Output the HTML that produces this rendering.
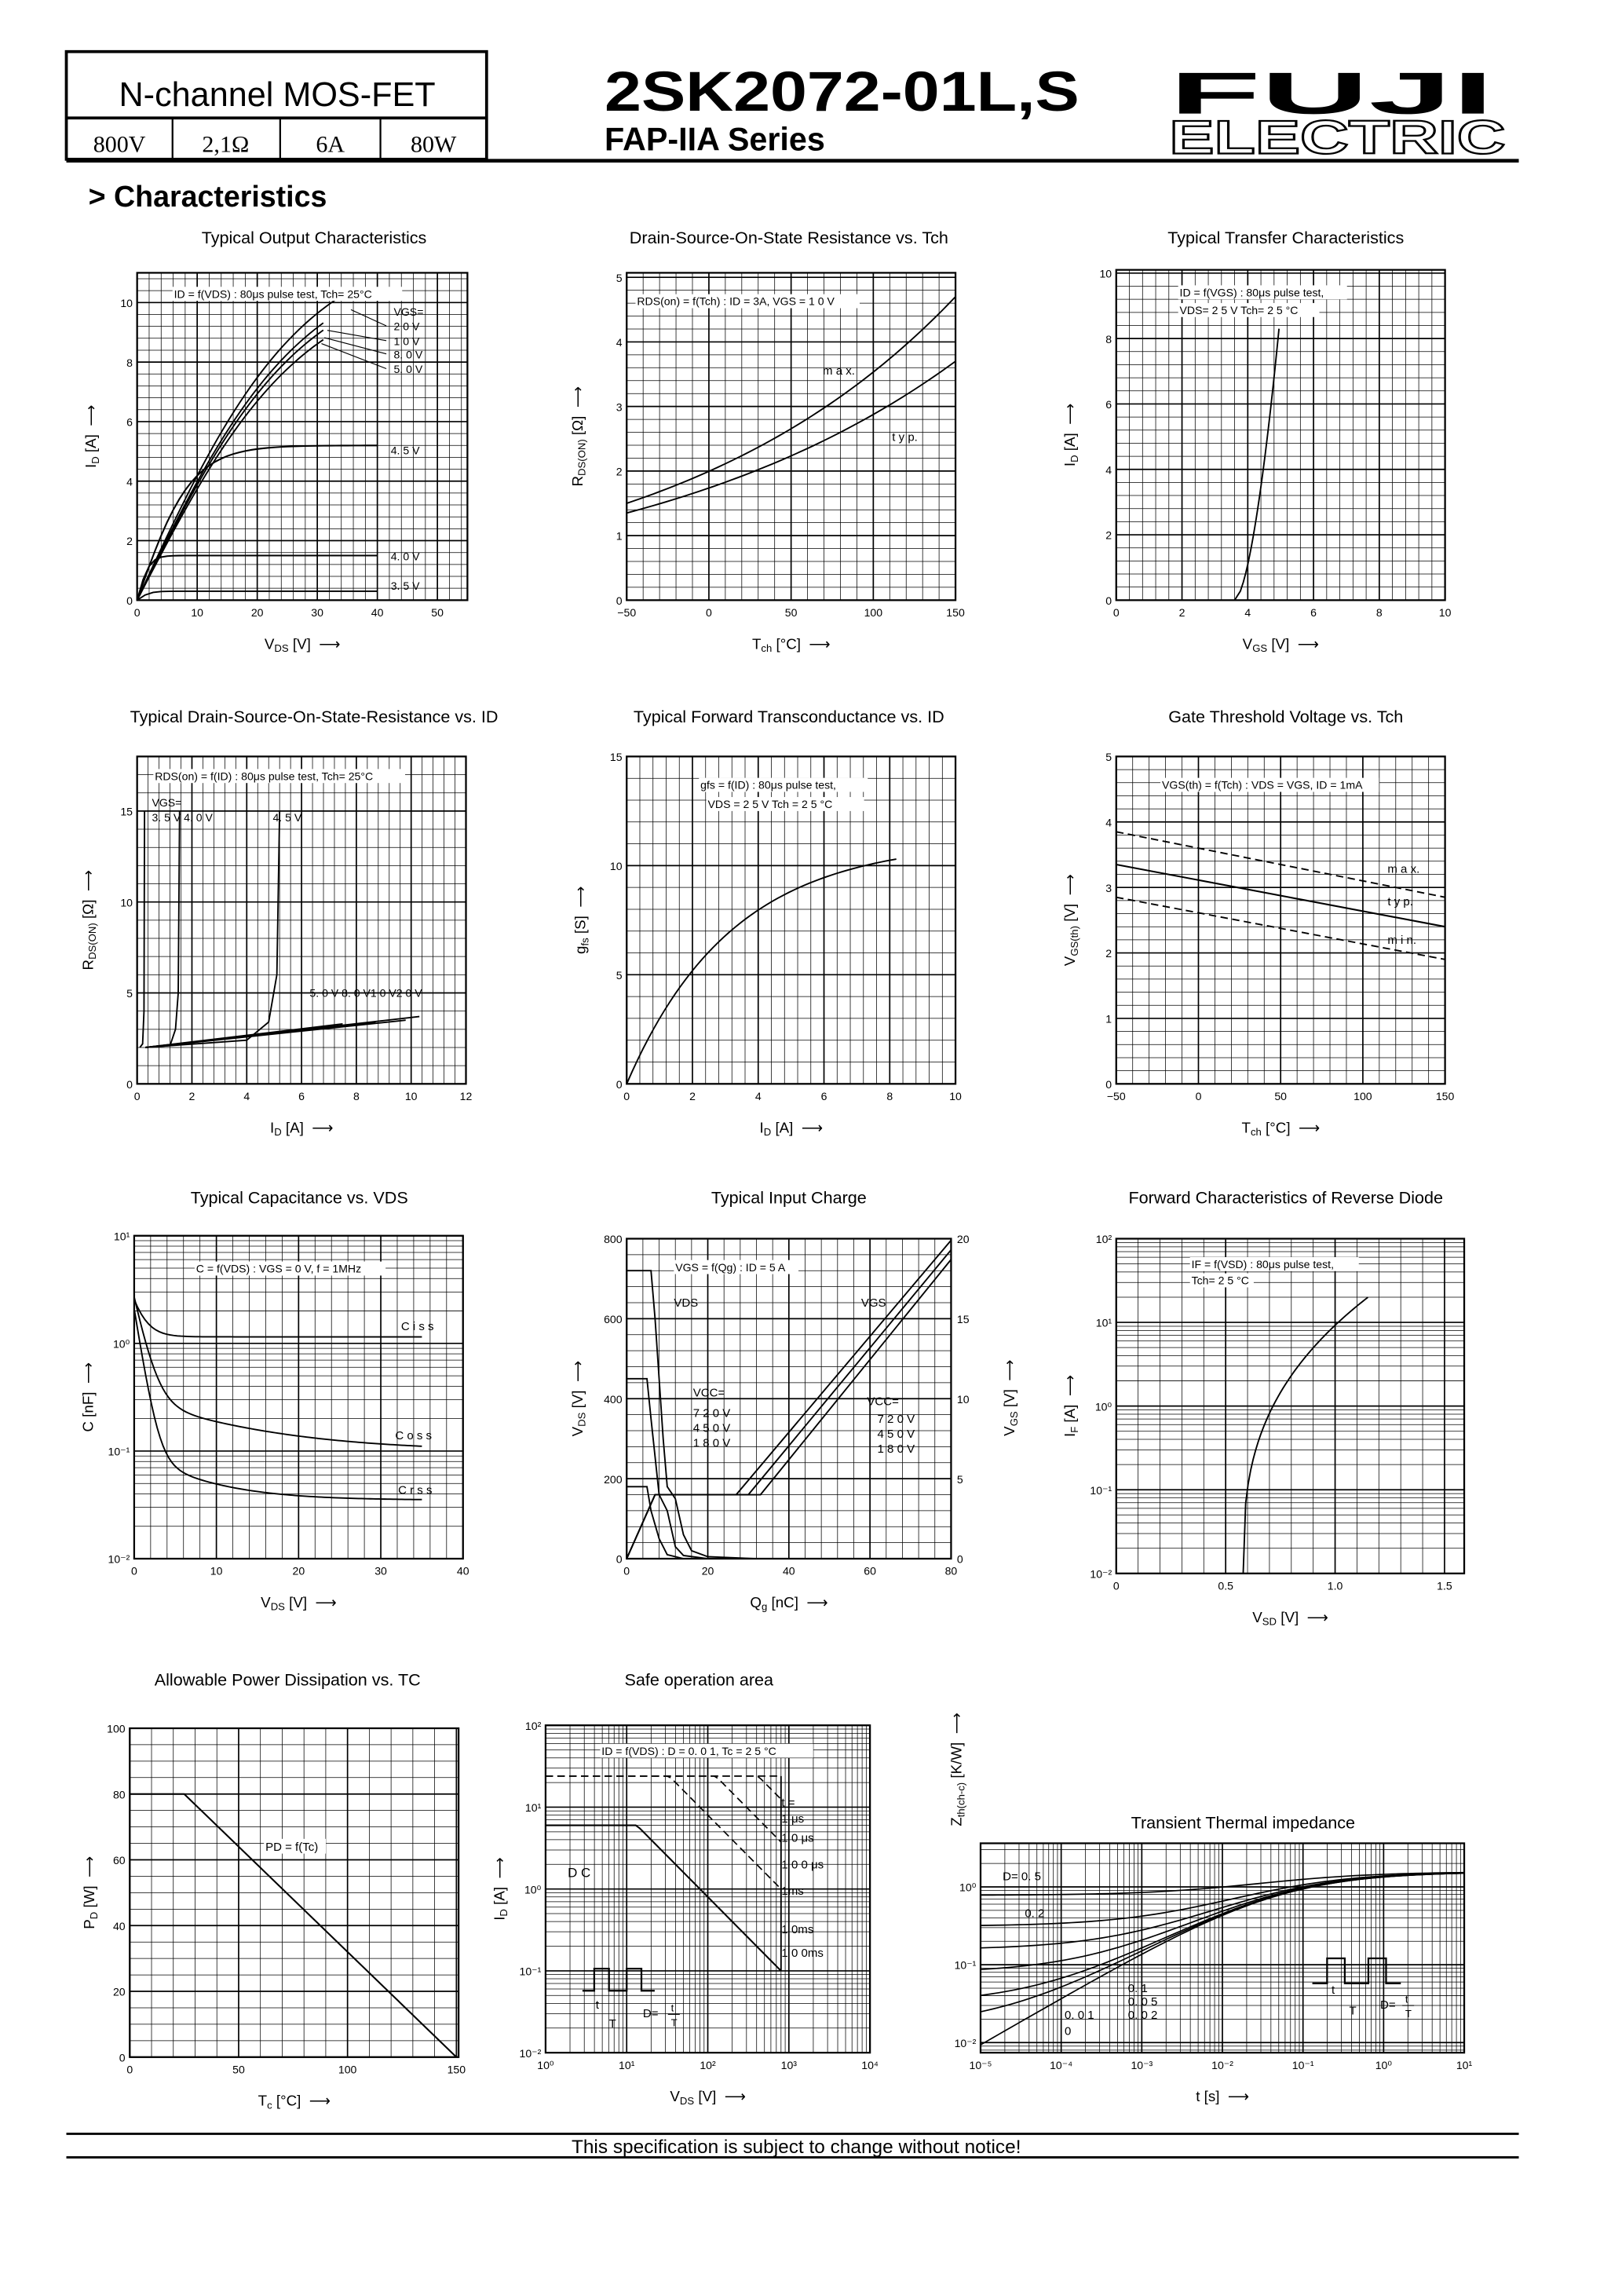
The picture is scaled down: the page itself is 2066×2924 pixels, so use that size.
<!DOCTYPE html>
<html><head><meta charset="utf-8"><style>
html,body{margin:0;padding:0;background:#fff}
svg{display:block}
text{font-family:"Liberation Sans",sans-serif;fill:#000}
</style></head><body>
<svg id="s" xmlns="http://www.w3.org/2000/svg" width="2066" height="2924" viewBox="0 0 1100 1557" preserveAspectRatio="none">
<rect width="1100" height="1557" fill="#fff"/>
<rect x="45" y="35" width="285" height="73" fill="none" stroke="#000" stroke-width="2"/>
<line x1="45" y1="80" x2="330" y2="80" stroke="#000" stroke-width="2"/>
<line x1="117" y1="80" x2="117" y2="108" stroke="#000" stroke-width="1.2"/>
<line x1="190" y1="80" x2="190" y2="108" stroke="#000" stroke-width="1.2"/>
<line x1="258" y1="80" x2="258" y2="108" stroke="#000" stroke-width="1.2"/>
<line x1="45" y1="109" x2="1030" y2="109" stroke="#000" stroke-width="2.5"/>
<text x="188" y="72" font-size="23" text-anchor="middle">N-channel MOS-FET</text>
<text x="81" y="103" font-size="16" text-anchor="middle" style="font-family:'Liberation Serif',serif">800V</text>
<text x="153" y="103" font-size="16" text-anchor="middle" style="font-family:'Liberation Serif',serif">2,1Ω</text>
<text x="224" y="103" font-size="16" text-anchor="middle" style="font-family:'Liberation Serif',serif">6A</text>
<text x="294" y="103" font-size="16" text-anchor="middle" style="font-family:'Liberation Serif',serif">80W</text>
<text x="410" y="75" font-size="38" font-weight="bold" textLength="322" lengthAdjust="spacingAndGlyphs">2SK2072-01L,S</text>
<text x="410" y="102" font-size="22" font-weight="bold">FAP-IIA Series</text>
<text x="793" y="77" font-size="40" font-weight="bold" textLength="220" lengthAdjust="spacingAndGlyphs">FUJI</text>
<text x="793" y="104" font-size="32" font-weight="bold" stroke="#000" stroke-width="1.2" textLength="228" lengthAdjust="spacingAndGlyphs" style="fill:none">ELECTRIC</text>
<text x="60" y="140" font-size="20" font-weight="bold">&gt; Characteristics</text>
<line x1="45" y1="1447" x2="1030" y2="1447" stroke="#000" stroke-width="1.5"/>
<line x1="45" y1="1463" x2="1030" y2="1463" stroke="#000" stroke-width="1.5"/>
<text x="540" y="1460" font-size="13" text-anchor="middle">This specification is subject to change without notice!</text>
<g id="g"></g>
</svg>
<script>
const NS='http://www.w3.org/2000/svg';const G=document.getElementById('g');
function el(t,a,txt){const e=document.createElementNS(NS,t);for(const k in a)e.setAttribute(k,a[k]);if(txt!=null)e.textContent=txt;G.appendChild(e);return e;}
function L(x1,y1,x2,y2,w,d){el('line',{x1,y1,x2,y2,stroke:'#000','stroke-width':w||0.5,'stroke-dasharray':d||'none'});}
function T(x,y,s,sz,anc,extra){const a={x,y,'font-size':sz||8,'text-anchor':anc||'start'};Object.assign(a,extra||{});return el('text',a,s);}
function lab(x,y,s,sz){el('rect',{x:x-1,y:y-sz,width:s.length*sz*0.5+2,height:sz+2,fill:'#fff'});T(x,y,s,sz);}
function ax(o){
 const lx=v=>o.xlog?Math.log10(v):v, ly=v=>o.ylog?Math.log10(v):v;
 const X=v=>o.x0+(lx(v)-o.xmin)/(o.xmax-o.xmin)*(o.x1-o.x0);
 const Y=v=>o.y1-(ly(v)-o.ymin)/(o.ymax-o.ymin)*(o.y1-o.y0);
 const minor=(log,min,max,step,mn,f)=>{ if(log){for(let d=Math.floor(min);d<max;d++)for(let i=2;i<10;i++){const v=d+Math.log10(i);if(v<max&&v>min)f(v);} } else {for(let v=min;v<=max+1e-9;v+=step/mn)f(v);} };
 const xs=(v)=>o.x0+(v-o.xmin)/(o.xmax-o.xmin)*(o.x1-o.x0);
 const ys=(v)=>o.y1-(v-o.ymin)/(o.ymax-o.ymin)*(o.y1-o.y0);
 minor(o.xlog,o.xmin,o.xmax,o.xs,o.xm||5,v=>{const x=xs(v);L(x,o.y0,x,o.y1,0.4);});
 minor(o.ylog,o.ymin,o.ymax,o.ys,o.ym||5,v=>{const y=ys(v);L(o.x0,y,o.x1,y,0.4);});
 o.xt.forEach(([v,s])=>{const x=xs(v);L(x,o.y0,x,o.y1,0.9);T(x,o.y1+11,s,7.5,'middle');});
 o.yt.forEach(([v,s])=>{const y=ys(v);L(o.x0,y,o.x1,y,0.9);T(o.x0-3,y+3,s,7.5,'end');});
 if(o.yt2)o.yt2.forEach(([v,s])=>{const y=ys(v);T(o.x1+4,y+3,s,7.5,'start');});
 el('rect',{x:o.x0,y:o.y0,width:o.x1-o.x0,height:o.y1-o.y0,fill:'none',stroke:'#000','stroke-width':1.2});
 if(o.title)T(o.tx||(o.x0+o.x1)/2,o.ty,o.title,11.5,'middle');
 if(o.xl){const t=T((o.x0+o.x1)/2,o.y1+(o.xly||33),'',10,'middle');t.innerHTML=o.xl;}
 if(o.yl){const cx=o.x0-(o.ylx||28),cy=(o.y0+o.y1)/2;const t=el('text',{x:cx,y:cy,'font-size':10,'text-anchor':'middle',transform:`rotate(-90 ${cx} ${cy})`});t.innerHTML=o.yl;}
 return {X,Y};
}
function curve(A,pts,w,d){el('polyline',{points:pts.map(p=>A.X(p[0]).toFixed(2)+','+A.Y(p[1]).toFixed(2)).join(' '),fill:'none',stroke:'#000','stroke-width':w||1,'stroke-dasharray':d||'none'});}
function fn(A,f,a,b,n,w,d){const p=[];for(let i=0;i<=n;i++){const x=a+(b-a)*i/n;p.push([x,f(x)]);}curve(A,p,w,d);}
function logfn(A,f,a,b,n,w,d){const p=[];for(let i=0;i<=n;i++){const x=Math.pow(10,a+(b-a)*i/n);p.push([x,f(x)]);}curve(A,p,w,d);}
const sub=(a,b)=>`${a}<tspan font-size="7" dy="2">${b}</tspan><tspan dy="-2">`;
const ARW=' &#160;⟶';
const R1=165,R2=490,R3=816,R4=1143;

let A=ax({x0:93,x1:317,y0:185,y1:407,xmin:0,xmax:55,ymin:0,ymax:11,xs:10,ys:2,xt:[[0,'0'],[10,'10'],[20,'20'],[30,'30'],[40,'40'],[50,'50']],yt:[[0,'0'],[2,'2'],[4,'4'],[6,'6'],[8,'8'],[10,'10']],title:'Typical Output Characteristics',ty:R1,tx:213,xl:sub('V','DS')+' [V]</tspan>'+ARW,yl:sub('I','D')+' [A]</tspan>'+ARW});
[[12.2,36],[11.6,31],[11.3,31],[10.9,31]].forEach(([s,e])=>fn(A,v=>s*Math.tanh(v/28),0,e,40,1));
fn(A,v=>5.2*Math.tanh(v/9),0,40,40,1.1);fn(A,v=>1.5*Math.tanh(v/2),0,40,40,1.1);fn(A,v=>0.3*Math.tanh(v/2),0,40,30,1);
lab(118,202,'ID = f(VDS) : 80μs pulse test,  Tch= 25°C',7.5);
T(267,214,'VGS=',7.5);T(267,224,'2 0 V',7.5);T(267,234,'1 0 V',7.5);T(267,243,'8. 0 V',7.5);T(267,253,'5. 0 V',7.5);
L(262,221,238,210,0.6);L(262,231,222,224,0.6);L(262,240,220,229,0.6);L(262,250,218,233,0.6);
T(265,308,'4. 5 V',7.5);T(265,380,'4. 0 V',7.5);T(265,400,'3. 5 V',7.5);

A=ax({x0:425,x1:648,y0:185,y1:407,xmin:-50,xmax:150,ymin:0,ymax:5.07,xs:50,ys:1,xt:[[-50,'−50'],[0,'0'],[50,'50'],[100,'100'],[150,'150']],yt:[[0,'0'],[1,'1'],[2,'2'],[3,'3'],[4,'4'],[5,'5']],title:'Drain-Source-On-State Resistance vs. Tch',ty:R1,tx:535,xl:sub('T','ch')+' [°C]</tspan>'+ARW,yl:sub('R','DS(ON)')+' [Ω]</tspan>'+ARW,ylx:30});
fn(A,t=>1.35*Math.exp(Math.log(3.7/1.35)*(t+50)/200),-50,150,50,1);
fn(A,t=>1.5*Math.exp(Math.log(4.7/1.5)*(t+50)/200),-50,150,50,1);
lab(432,207,'RDS(on) = f(Tch) : ID = 3A,  VGS = 1 0 V',7.5);T(558,254,'m a x.',8);T(605,299,'t y p.',8);

A=ax({x0:757,x1:980,y0:183,y1:407,xmin:0,xmax:10,ymin:0,ymax:10.1,xs:2,ys:2,xt:[[0,'0'],[2,'2'],[4,'4'],[6,'6'],[8,'8'],[10,'10']],yt:[[0,'0'],[2,'2'],[4,'4'],[6,'6'],[8,'8'],[10,'10']],title:'Typical Transfer Characteristics',ty:R1,tx:872,xl:sub('V','GS')+' [V]</tspan>'+ARW,yl:sub('I','D')+' [A]</tspan>'+ARW});
(function(){const p=[];for(let i=0;i<=30;i++){const I=8.3*i/30;p.push([3.6+1.35*Math.pow(I/8.3,0.6),I]);}curve(A,p,1);})();
lab(800,201,'ID = f(VGS) : 80μs pulse test,',7.5);lab(800,213,'VDS= 2 5 V    Tch= 2 5 °C',7.5);

A=ax({x0:93,x1:316,y0:513,y1:735,xmin:0,xmax:12,ymin:0,ymax:18,xs:2,ys:5,xt:[[0,'0'],[2,'2'],[4,'4'],[6,'6'],[8,'8'],[10,'10'],[12,'12']],yt:[[0,'0'],[5,'5'],[10,'10'],[15,'15']],title:'Typical Drain-Source-On-State-Resistance vs. ID',ty:R2,tx:213,xl:sub('I','D')+' [A]</tspan>'+ARW,yl:sub('R','DS(ON)')+' [Ω]</tspan>'+ARW,ylx:30});
curve(A,[[0.1,2],[0.2,2.2],[0.25,4],[0.27,15]],1);
curve(A,[[0.3,2],[1.2,2.1],[1.4,3],[1.5,5],[1.55,15]],1);
curve(A,[[0.3,2],[4,2.4],[4.8,3.4],[5.1,6],[5.2,15]],1);
curve(A,[[0.3,2],[7.5,3.3]],1);curve(A,[[0.3,2],[8.7,3.4]],1);curve(A,[[0.3,2],[9.8,3.5]],1);curve(A,[[0.3,2],[10.3,3.7]],1);
lab(105,529,'RDS(on) = f(ID) : 80μs pulse test,  Tch= 25°C',7.5);
T(103,547,'VGS=',7.5);T(103,557,'3. 5 V  4. 0 V',7.5);T(185,557,'4. 5 V',7.5);T(210,676,'5. 0 V 8. 0 V1 0 V2 0 V',7.5);

A=ax({x0:425,x1:648,y0:513,y1:735,xmin:0,xmax:10,ymin:0,ymax:15,xs:2,ys:5,xt:[[0,'0'],[2,'2'],[4,'4'],[6,'6'],[8,'8'],[10,'10']],yt:[[0,'0'],[5,'5'],[10,'10'],[15,'15']],title:'Typical Forward Transconductance vs. ID',ty:R2,tx:535,xl:sub('I','D')+' [A]</tspan>'+ARW,yl:sub('g','fs')+' [S]</tspan>'+ARW});
fn(A,i=>10.3*(1-Math.exp(-i/3.2))/(1-Math.exp(-8.2/3.2)),0,8.2,50,1);
lab(475,535,'gfs = f(ID) : 80μs pulse test,',7.5);lab(480,548,'VDS = 2 5 V     Tch = 2 5 °C',7.5);

A=ax({x0:757,x1:980,y0:513,y1:735,xmin:-50,xmax:150,ymin:0,ymax:5,xs:50,ys:1,xt:[[-50,'−50'],[0,'0'],[50,'50'],[100,'100'],[150,'150']],yt:[[0,'0'],[1,'1'],[2,'2'],[3,'3'],[4,'4'],[5,'5']],title:'Gate Threshold Voltage vs. Tch',ty:R2,tx:872,xl:sub('T','ch')+' [°C]</tspan>'+ARW,yl:sub('V','GS(th)')+' [V]</tspan>'+ARW});
curve(A,[[-50,3.35],[150,2.4]],1.1);curve(A,[[-50,3.85],[150,2.85]],1,'5,3');curve(A,[[-50,2.85],[150,1.9]],1,'5,3');
lab(788,535,'VGS(th) = f(Tch) : VDS = VGS,  ID = 1mA',7.5);T(941,592,'m a x.',8);T(941,614,'t y p.',8);T(941,640,'m i n.',8);

A=ax({x0:91,x1:314,y0:838,y1:1057,xmin:0,xmax:40,ymin:-2,ymax:1,ylog:true,xs:10,ys:1,xt:[[0,'0'],[10,'10'],[20,'20'],[30,'30'],[40,'40']],yt:[[-2,'10⁻²'],[-1,'10⁻¹'],[0,'10⁰'],[1,'10¹']],title:'Typical Capacitance vs. VDS',ty:R3,tx:203,xl:sub('V','DS')+' [V]</tspan>'+ARW,yl:'C [nF]'+ARW});
fn(A,v=>1.15+1.4*Math.exp(-v/1.3),0,35,80,1);
fn(A,v=>0.1+2.4*Math.exp(-v/1.2)+0.2*Math.exp(-v/12),0,35,100,1);
fn(A,v=>0.035+2*Math.exp(-v/0.9)+0.06*Math.exp(-v/7),0,35,100,1);
lab(133,863,'C = f(VDS) : VGS = 0 V,   f = 1MHz',7.5);T(272,902,'C i s s',8);T(268,976,'C o s s',8);T(270,1013,'C r s s',8);

A=ax({x0:425,x1:645,y0:840,y1:1057,xmin:0,xmax:80,ymin:0,ymax:800,xs:20,ys:200,xt:[[0,'0'],[20,'20'],[40,'40'],[60,'60'],[80,'80']],yt:[[0,'0'],[200,'200'],[400,'400'],[600,'600'],[800,'800']],yt2:[[0,'0'],[200,'5'],[400,'10'],[600,'15'],[800,'20']],title:'Typical Input Charge',ty:R3,tx:535,xl:sub('Q','g')+' [nC]</tspan>'+ARW,yl:sub('V','DS')+' [V]</tspan>'+ARW,ylx:30});
curve(A,[[0,720],[6,720],[7,600],[9,300],[10,180],[12,150],[14,60],[16,20],[20,5],[32,0]],1);
curve(A,[[0,450],[5,450],[6,350],[8,160],[10,120],[12,30],[14,8],[20,0]],1);
curve(A,[[0,180],[5,180],[6,120],[8,50],[10,10],[14,0]],1);
[[27,796],[30,772],[33,748]].forEach(([q,e])=>curve(A,[[0,0],[7,160],[q,160],[80,e]],1));
lab(458,862,'VGS = f(Qg) : ID = 5 A',7.5);T(457,886,'VDS',8);T(584,886,'VGS',8);
T(470,947,'VCC=',8);T(470,961,'7 2 0 V',8);T(470,971,'4 5 0 V',8);T(470,981,'1 8 0 V',8);
T(588,953,'VCC=',8);T(595,965,'7 2 0 V',8);T(595,975,'4 5 0 V',8);T(595,985,'1 8 0 V',8);
el('text',{x:688,y:948,'font-size':10,'text-anchor':'middle',transform:'rotate(-90 688 948)'}).innerHTML=sub('V','GS')+' [V]</tspan>'+ARW;

A=ax({x0:757,x1:993,y0:840,y1:1067,xmin:0,xmax:1.59,ymin:-2,ymax:2,ylog:true,xs:0.5,ys:1,xt:[[0,'0'],[0.5,'0.5'],[1,'1.0'],[1.5,'1.5']],yt:[[-2,'10⁻²'],[-1,'10⁻¹'],[0,'10⁰'],[1,'10¹'],[2,'10²']],title:'Forward Characteristics of Reverse Diode',ty:R3,tx:872,xl:sub('V','SD')+' [V]</tspan>'+ARW,yl:sub('I','F')+' [A]</tspan>'+ARW});
(function(){const p=[];for(let i=0;i<=50;i++){const t=i/50;p.push([0.58+0.57*t,Math.pow(10,-2+3.3*Math.pow(t,0.35))]);}curve(A,p,1);})();
lab(808,860,'IF = f(VSD) : 80μs pulse test,',7.5);lab(808,871,'Tch= 2 5 °C',7.5);

A=ax({x0:88,x1:311,y0:1172,y1:1395,xmin:0,xmax:151,ymin:0,ymax:100,xs:50,ys:20,xm:5,ym:4,xt:[[0,'0'],[50,'50'],[100,'100'],[150,'150']],yt:[[0,'0'],[20,'20'],[40,'40'],[60,'60'],[80,'80'],[100,'100']],title:'Allowable Power Dissipation vs. TC',ty:R4,tx:195,xl:sub('T','c')+' [°C]</tspan>'+ARW,yl:sub('P','D')+' [W]</tspan>'+ARW,ylx:24});
curve(A,[[0,80],[25,80],[150,0]],1.1);lab(180,1255,'PD = f(Tc)',8);

A=ax({x0:370,x1:590,y0:1170,y1:1392,xmin:0,xmax:4,ymin:-2,ymax:2,xlog:true,ylog:true,xs:1,ys:1,xt:[[0,'10⁰'],[1,'10¹'],[2,'10²'],[3,'10³'],[4,'10⁴']],yt:[[-2,'10⁻²'],[-1,'10⁻¹'],[0,'10⁰'],[1,'10¹'],[2,'10²']],title:'Safe operation area',ty:R4,tx:474,xl:sub('V','DS')+' [V]</tspan>'+ARW,yl:sub('I','D')+' [A]</tspan>'+ARW});
logfn(A,v=>Math.min(6,80/v),0,2.9,60,1.1);
[800,3000,10000,30000].forEach(P=>logfn(A,v=>Math.min(24,P/v),0,2.9,60,0.9,'5,3'));
curve(A,[[1,24],[800,24]],0.8,'5,3');L(A.X(800),A.Y(24),A.X(800),A.Y(0.1),1);
lab(408,1190,'ID = f(VDS) : D = 0. 0 1,  Tc = 2 5 °C',7.5);
T(530,1225,'t =',8);T(530,1236,'1 μs',8);T(530,1249,'1 0 μs',8);T(530,1267,'1 0 0 μs',8);T(530,1285,'1ms',8);T(530,1311,'1 0ms',8);T(530,1327,'1 0 0ms',8);T(385,1273,'D C',9);
el('polyline',{points:'395,1350 403,1350 403,1335 413,1335 413,1350 425,1350 425,1335 435,1335 435,1350 444,1350',fill:'none',stroke:'#000','stroke-width':1.2});
T(404,1362,'t',8);T(413,1375,'T',8);T(436,1368,'D=',8);T(455,1364,'t',7);L(453,1366,461,1366,0.6);T(455,1374,'T',7);

A=ax({x0:665,x1:993,y0:1250,y1:1392,xmin:-5,xmax:1,ymin:-2.13,ymax:0.56,xlog:true,ylog:true,xs:1,ys:1,xt:[[-5,'10⁻⁵'],[-4,'10⁻⁴'],[-3,'10⁻³'],[-2,'10⁻²'],[-1,'10⁻¹'],[0,'10⁰'],[1,'10¹']],yt:[[-2,'10⁻²'],[-1,'10⁻¹'],[0,'10⁰']],title:'Transient Thermal impedance',ty:1240,tx:843,xl:'t [s]'+ARW});
const Zs=t=>{const r=Math.pow(t/0.05,0.6);return 1.56*r/(1+r);};
[0.5,0.2,0.1,0.05,0.02,0.01,0].forEach(D=>logfn(A,t=>D*1.56+(1-D)*Zs(t),-5,1,80,0.9));
T(680,1275,'D= 0. 5',8);T(695,1300,'0. 2',8);T(765,1351,'0. 1',8);T(765,1360,'0. 0 5',8);T(765,1369,'0. 0 2',8);T(722,1369,'0. 0 1',8);T(722,1380,'0',8);
el('polyline',{points:'890,1345 900,1345 900,1328 912,1328 912,1345 928,1345 928,1328 940,1328 940,1345 950,1345',fill:'none',stroke:'#000','stroke-width':1.2});
T(903,1352,'t',8);T(915,1366,'T',8);T(936,1362,'D=',8);T(953,1358,'t',7);L(951,1360,959,1360,0.6);T(953,1368,'T',7);
el('text',{x:652,y:1200,'font-size':10,'text-anchor':'middle',transform:'rotate(-90 652 1200)'}).innerHTML=sub('Z','th(ch-c)')+' [K/W]</tspan>'+ARW;
</script>
</body></html>
